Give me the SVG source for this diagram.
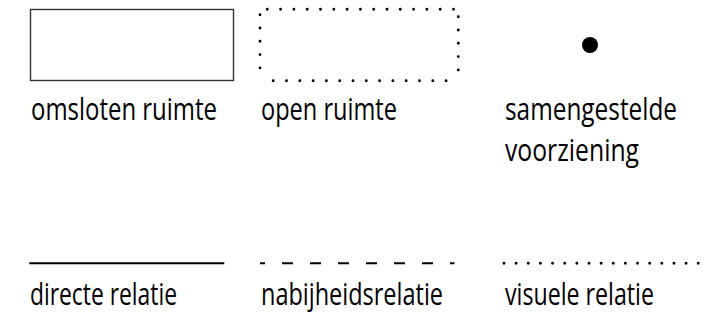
<svg xmlns="http://www.w3.org/2000/svg" width="717" height="321" viewBox="0 0 717 321">
  <style>
    .lbl { font-family: "Open Sans", "Noto Sans", "Liberation Sans", sans-serif; font-size: 31px; fill: #000; }
    .dots { fill: none; stroke: #000; stroke-width: 2.9; stroke-linecap: round; }
    .line { fill: none; stroke: #000; stroke-width: 2; }
  </style>
  <rect width="717" height="321" fill="#ffffff"/>

  <g id="omsloten-ruimte">
    <rect x="30.5" y="9.5" width="203" height="71" fill="none" stroke="#333" stroke-width="1.4"/>
    <text class="lbl" x="31" y="120" textLength="186" lengthAdjust="spacingAndGlyphs">omsloten ruimte</text>
  </g>

  <g id="open-ruimte">
    <path class="dots" stroke-dasharray="0 13.3" d="M267.3 9.3 H454.5 M260 14.7 V81 M273.2 80.7 H458.5 M458.3 16.7 V70"/>
    <text class="lbl" x="261" y="120" textLength="136" lengthAdjust="spacingAndGlyphs">open ruimte</text>
  </g>

  <g id="samengestelde-voorziening">
    <circle cx="590" cy="45" r="8" fill="#000"/>
    <text class="lbl" x="505" y="120" textLength="172" lengthAdjust="spacingAndGlyphs">samengestelde</text>
    <text class="lbl" x="505" y="161" textLength="134" lengthAdjust="spacingAndGlyphs">voorziening</text>
  </g>

  <g id="connectors">
    <path id="directe" class="line" d="M29.3 263.3 H224.3"/>
    <path id="nabijheid" class="line" stroke-dasharray="11 17" stroke-dashoffset="6" d="M260 263.3 H454.5"/>
    <path id="visueel" class="dots" stroke-dasharray="0 12.14" d="M504 263.3 H698.5"/>
  </g>

  <g id="directe-relatie">
    <text class="lbl" x="30" y="305" textLength="147" lengthAdjust="spacingAndGlyphs">directe relatie</text>
  </g>
  <g id="nabijheidsrelatie">
    <text class="lbl" x="261" y="305" textLength="182" lengthAdjust="spacingAndGlyphs">nabijheidsrelatie</text>
  </g>
  <g id="visuele-relatie">
    <text class="lbl" x="505" y="305" textLength="149" lengthAdjust="spacingAndGlyphs">visuele relatie</text>
  </g>
</svg>
